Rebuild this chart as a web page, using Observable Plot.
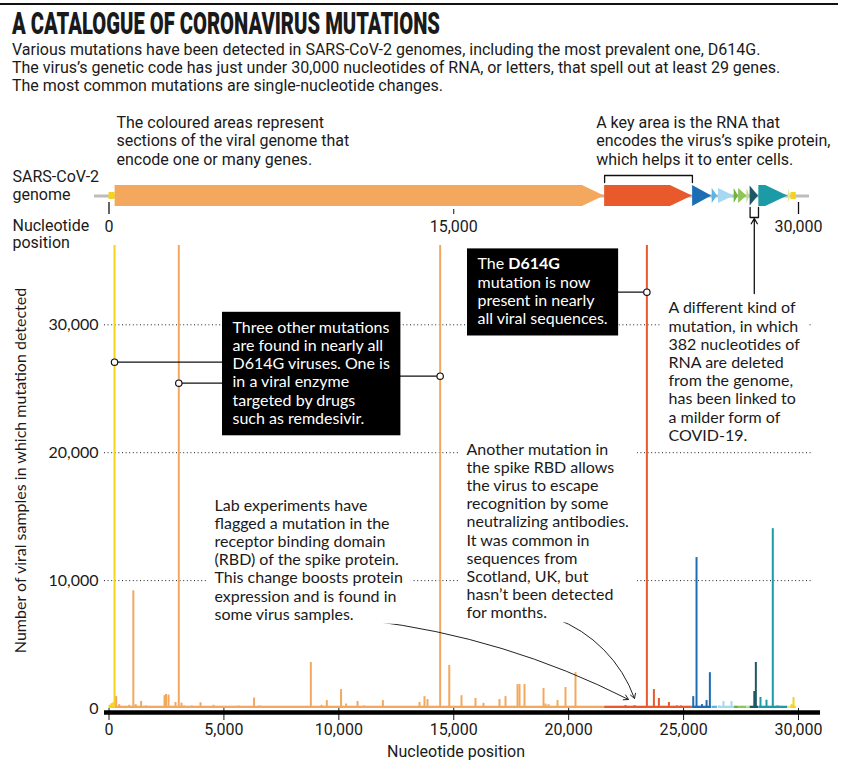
<!DOCTYPE html>
<html><head><meta charset="utf-8">
<script src="https://cdn.jsdelivr.net/npm/d3@7"></script>
<script src="https://cdn.jsdelivr.net/npm/@observablehq/plot@0.6"></script>
<style>
body{margin:0;background:#fff;width:841px;overflow:hidden}
#head{position:relative;height:100px;color:#1a1a1a}
#rule{position:absolute;left:0;top:3px;width:838px;height:2px;background:#111}
#title{position:absolute;left:12px;top:8px;font-family:Roboto;font-weight:900;font-size:31px;line-height:31px;white-space:nowrap;transform-origin:0 0}
#sub{position:absolute;left:12px;top:41.3px;font-family:Roboto;font-size:16px;line-height:18px;white-space:nowrap}
#chart svg{display:block}
</style></head>
<body>
<div id="head">
  <div id="rule"></div>
  <div id="title">A CATALOGUE OF CORONAVIRUS MUTATIONS</div>
  <div id="sub">Various mutations have been detected in SARS-CoV-2 genomes, including the most prevalent one, D614G.<br>The virus’s genetic code has just under 30,000 nucleotides of RNA, or letters, that spell out at least 29 genes.<br>The most common mutations are single-nucleotide changes.</div>
</div>
<div id="chart"></div>
<script>
// ---------- DATA ----------
const geneNames = ["5'UTR","ORF1ab","S","ORF3a","E","M","ORF6","ORF7a","ORF7b","ORF8","N","ORF10","3'UTR"];
const geneStart = [1,266,21563,25393,26245,26523,27202,27394,27756,27894,28274,29558,29675];
const geneEnd   = [265,21555,25384,26220,26472,27191,27387,27759,27887,28259,29533,29674,29903];

const mutPos = [40,110,187,241,
  313,445,880,1059,1163,1397,1605,1820,2110,2416,2480,2589,2893,3037,3155,3267,3500,3602,3981,4300,
  4547,5200,5635,6312,6548,7000,7300,7800,8500,8782,9246,9477,10097,10319,10813,11083,11916,12500,12770,13510,
  13727,13858,14408,14805,15337,15946,16294,16990,17252,17774,17861,18079,18905,18992,19123,19514,19862,20297,20645,21200,
  21800,22200,22473,22865,23213,23403,23708,23926,24361,24709,24883,25200,
  25420,25563,25800,26000,26144,
  26350,
  26530,26736,27084,
  27300,27550,27800,
  28077,28144,
  28346,28607,28881,29086,29400,
  29600,
  29700,29784];
const mutCount = [260,380,450,36200,
  930,300,250,9200,300,550,200,150,150,1000,1100,1050,470,36200,420,200,150,200,450,150,
  250,120,200,820,200,120,150,130,150,3600,250,620,1480,350,550,200,620,120,150,470,
  930,700,36200,3360,1000,780,400,700,930,1870,1870,1870,1560,350,300,620,1640,2800,100,150,
  150,120,230,220,150,36200,1480,780,470,200,200,130,
  930,11800,300,620,2800,
  150,
  200,550,550,
  100,120,100,
  1330,3600,
  860,650,14060,200,150,
  150,
  300,860];
const baseLevel = 180;           // background count level along the genome

const xTicks = [0,5000,10000,15000,20000,25000,30000];
const yTicks = [0,10000,20000,30000];
const gridValues = [10000,20000,30000];
const genomeTicks = [0,15000,30000];

// ---------- STYLE ----------
const geneStyle = {
  "5'UTR":{color:"#f5d21e",kind:"utr"}, "ORF1ab":{color:"#f4a85d",kind:"big"}, "S":{color:"#e8592b",kind:"big"},
  "ORF3a":{color:"#1c6db4",kind:"big"}, "E":{color:"#5ab5e7",kind:"small"}, "M":{color:"#a6d8f3",kind:"small"},
  "ORF6":{color:"#6db33f",kind:"small"}, "ORF7a":{color:"#8fc557",kind:"small"}, "ORF7b":{color:"#bddc93",kind:"small"},
  "ORF8":{color:"#1d5866",kind:"mid"}, "N":{color:"#1b9ba6",kind:"big"}, "ORF10":{color:"#e3e98f",kind:"small"},
  "3'UTR":{color:"#f5d21e",kind:"utr"}
};
const INK = "#1a1a1a";
const fmt = d3.format(",");

// ---------- LAYOUT (data units) ----------
const L = {
  xExtent:[-196,30957], yExtent:[0,36200],
  genomeY:40072, half:{big:821,mid:782,small:586,utr:274}, head:957,
  backbone:[-631,30478],
  spikeBracket:[41126,41673], orf8Bracket:[39171,38389], orf8Arrow:[32447,38311],
  gTickEnd:[38624,39562], gTickMid:[38624,39016], gTickLabelY:37283,
  genomeNoteY:42525, leftLabelX:-4199, genomeLabelY:39734, posLabelY:35981,
  yTitleY:18610, xTitle:[15100,-3831]
};
const notes = [
  {id:"three", x:5374, y:22260, kind:"box", lines:["Three other mutations","are found in nearly all","D614G viruses. One is","in a viral enzyme","targeted by drugs","such as remdesivir."]},
  {id:"d614g", x:16033, y:30063, kind:"box", lines:["The D614G","mutation is now","present in nearly","all viral sequences."]},
  {id:"deletion", x:24344, y:20938, kind:"plain", lines:["A different kind of","mutation, in which","382 nucleotides of","RNA are deleted","from the genome,","has been linked to","a milder form of","COVID-19."]},
  {id:"scotland", x:15556, y:7045, kind:"plain", lines:["Another mutation in","the spike RBD allows","the virus to escape","recognition by some","neutralizing antibodies.","It was common in","sequences from","Scotland, UK, but","hasn’t been detected","for months."]},
  {id:"lab", x:4590, y:6943, kind:"plain", lines:["Lab experiments have","flagged a mutation in the","receptor binding domain","(RBD) of the spike protein.","This change boosts protein","expression and is found in","some virus samples."]}
];
const genomeNotes = [
  {x:326, lines:["The coloured areas represent","sections of the viral genome that","encode one or many genes."]},
  {x:21198, lines:["A key area is the RNA that","encodes the virus’s spike protein,","which helps it to enter cells."]}
];
const callouts = [
  {pos:241, y:27076, note:"three"}, {pos:3037, y:25434, note:"three"},
  {pos:14408, y:25981, note:"three"}, {pos:23403, y:32549, note:"d614g"}
];
const pointers = [
  {x1:11291, y1:6880, x2:22604, y2:704, bend:10},
  {x1:19427, y1:7037, x2:22865, y2:782, bend:25}
];

// ---------- BUILD ----------
const G = geneNames.map((name,i)=>({name, start:geneStart[i], end:geneEnd[i]}));
const geneOf = p => (G.find(g=>p>=g.start && p<=g.end) || G.filter(g=>g.start<=p).pop() || G[0]).name;
const muts = mutPos.map((pos,i)=>({pos, count:mutCount[i], gene:geneOf(pos)}));
const colorOf = name => geneStyle[name].color;

const arrowGenes = G.filter(g=>geneStyle[g.name].kind!=="utr");
const arrowPts = arrowGenes.flatMap(g=>{
  const h = L.half[geneStyle[g.name].kind];
  const head = Math.min(L.head, g.end-g.start);
  return [
    {name:g.name, x:g.start, y1:L.genomeY-h, y2:L.genomeY+h},
    {name:g.name, x:g.end-head, y1:L.genomeY-h, y2:L.genomeY+h},
    {name:g.name, x:g.end, y1:L.genomeY, y2:L.genomeY}
  ];
});
const utrs = G.filter(g=>geneStyle[g.name].kind==="utr");
const spike = G.find(g=>g.name==="S"), orf8 = G.find(g=>g.name==="ORF8");
const brackets = [
  ...[[spike.start,L.spikeBracket[0]],[spike.start,L.spikeBracket[1]],[spike.end,L.spikeBracket[1]],[spike.end,L.spikeBracket[0]]].map(([x,y])=>({id:"S",x,y})),
  ...[[orf8.start,L.orf8Bracket[0]],[orf8.start,L.orf8Bracket[1]],[orf8.end,L.orf8Bracket[1]],[orf8.end,L.orf8Bracket[0]]].map(([x,y])=>({id:"ORF8",x,y}))
];
const noteById = Object.fromEntries(notes.map(n=>[n.id,n]));
const connectors = callouts.map(c=>({x1:c.pos, x2:noteById[c.note].x, y:c.y}));

const noteText = {x:"x", y:"y", text:d=>d.lines.join("\n"), textAnchor:"start", lineAnchor:"bottom",
  fontFamily:"Lato", fontSize:16, lineHeight:1.1375};

const chart = Plot.plot({
  width:841, height:668,
  marginLeft:104, marginRight:21, marginTop:145, marginBottom:60,
  x:{domain:L.xExtent}, y:{domain:L.yExtent},
  color:{type:"identity"},
  style:{fontFamily:"Roboto", fontSize:"16px", color:INK, background:"transparent", overflow:"visible"},
  marks:[
    Plot.ruleY(gridValues, {stroke:"#222", strokeDasharray:"1,2.6", strokeWidth:1, insetRight:7}),
    // genome
    Plot.ruleY([L.genomeY], {x1:L.backbone[0], x2:L.backbone[1], stroke:"#bdbdbd", strokeWidth:3}),
    Plot.areaY(arrowPts, {x:"x", y1:"y1", y2:"y2", z:"name", fill:d=>colorOf(d.name), curve:"linear"}),
    Plot.rect(utrs, {x1:"start", x2:"end", y1:L.genomeY-L.half.utr, y2:L.genomeY+L.half.utr, fill:d=>colorOf(d.name)}),
    Plot.line(brackets, {x:"x", y:"y", z:"id", stroke:"#111", strokeWidth:1.3}),
    Plot.ruleX([genomeTicks[0], genomeTicks[2]], {y1:L.gTickEnd[0], y2:L.gTickEnd[1], stroke:"#111", strokeWidth:1.3}),
    Plot.ruleX([genomeTicks[1]], {y1:L.gTickMid[0], y2:L.gTickMid[1], stroke:"#111", strokeWidth:1}),
    Plot.text(genomeTicks, {x:d=>d, y:L.gTickLabelY, text:d=>fmt(d), lineAnchor:"bottom", fontSize:16, fill:INK}),
    Plot.arrow([orf8], {x:d=>(d.start+d.end)/2, y1:L.orf8Arrow[0], y2:L.orf8Arrow[1], stroke:"#111", strokeWidth:1.3, headLength:7}),
    Plot.text(genomeNotes, {x:"x", y:L.genomeNoteY, text:d=>d.lines.join("\n"), textAnchor:"start", lineAnchor:"bottom", fontSize:16, lineHeight:1.144, fill:INK}),
    Plot.text([["SARS-CoV-2","genome"].join("\n")], {x:L.leftLabelX, y:L.genomeLabelY, textAnchor:"start", lineAnchor:"bottom", fontSize:16, lineHeight:1.125, fill:INK}),
    Plot.text([["Nucleotide","position"].join("\n")], {x:L.leftLabelX, y:L.posLabelY, textAnchor:"start", lineAnchor:"bottom", fontSize:16, lineHeight:1.0625, fill:INK}),
    // axes
    Plot.axisX(xTicks, {tickSize:12, tickPadding:3, tickFormat:fmt, fontSize:16, fontFamily:"Roboto", label:null}),
    Plot.axisY(yTicks, {tickSize:0, tickPadding:6, tickFormat:fmt, fontSize:16, fontFamily:"Lato", label:null}),
    // data
    Plot.rect(G, {x1:"start", x2:"end", y1:0, y2:baseLevel, fill:d=>colorOf(d.name)}),
    Plot.ruleX(muts, {x:"pos", y1:0, y2:"count", stroke:d=>colorOf(d.gene), strokeWidth:2}),
    Plot.ruleY([0], {stroke:"#000", strokeWidth:4.5, dy:4}),
    // annotations
    Plot.ruleY(connectors, {x1:"x1", x2:"x2", y:"y", stroke:"#111", strokeWidth:1.2}),
    Plot.dot(callouts, {x:"pos", y:"y", r:3.2, fill:"white", stroke:"#111", strokeWidth:1.2}),
    Plot.arrow([pointers[0]], {x1:"x1", y1:"y1", x2:"x2", y2:"y2", bend:pointers[0].bend, stroke:"#222", strokeWidth:1, headLength:8}),
    Plot.arrow([pointers[1]], {x1:"x1", y1:"y1", x2:"x2", y2:"y2", bend:pointers[1].bend, stroke:"#222", strokeWidth:1, headLength:8}),
    Plot.text(notes.filter(n=>n.kind==="box"), {...noteText, fill:"white"}),
    Plot.text(notes.filter(n=>n.kind==="plain"), {...noteText, fill:INK}),
    Plot.text(["Number of viral samples in which mutation detected"], {frameAnchor:"left", dx:-84, y:L.yTitleY, rotate:-90, textAnchor:"middle", lineAnchor:"middle", fontFamily:"Lato", fontSize:16, fill:INK}),
    Plot.text(["Nucleotide position"], {x:L.xTitle[0], y:L.xTitle[1], lineAnchor:"bottom", fontSize:16, fill:INK})
  ]
});
document.getElementById("chart").appendChild(chart);

// title fit
const title = document.getElementById("title");
title.style.transform = `scaleX(${428 / title.getBoundingClientRect().width})`;

// note backgrounds (black boxes / white knockouts) and bold D614G
const SVGNS = "http://www.w3.org/2000/svg";
const texts = [...chart.querySelectorAll("text")];
for (const n of notes) {
  const el = texts.find(t => t.textContent.startsWith(n.lines[0]));
  if (!el) continue;
  if (n.id === "d614g") {
    const ts = [...el.querySelectorAll("tspan")].find(t => t.textContent === "The D614G");
    if (ts) { ts.textContent = "The "; const b = document.createElementNS(SVGNS,"tspan"); b.setAttribute("font-weight","700"); b.textContent = "D614G"; ts.appendChild(b); }
  }
  const bb = el.getBBox();
  const p = n.kind === "box" ? {x:10.5, t:5, b:8.5} : {x:8, t:1, b:1};
  const r = document.createElementNS(SVGNS, "rect");
  r.setAttribute("x", bb.x - p.x); r.setAttribute("y", bb.y - p.t);
  r.setAttribute("width", bb.width + 2*p.x); r.setAttribute("height", bb.height + p.t + p.b);
  const tr = el.getAttribute("transform"); if (tr) r.setAttribute("transform", tr);
  r.setAttribute("fill", n.kind === "box" ? "#000" : "#fff"); r.setAttribute("stroke", "none");
  el.parentNode.insertBefore(r, el);
}
</script>
</body></html>
